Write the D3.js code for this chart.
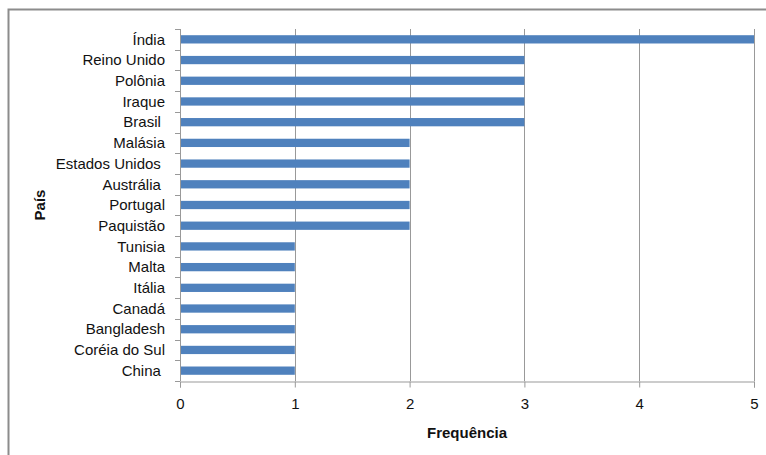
<!DOCTYPE html>
<html>
<head>
<meta charset="utf-8">
<script src="https://cdn.jsdelivr.net/npm/d3@7"></script>
<style>
  html, body { margin: 0; padding: 0; background: #fff; }
  svg text { font-family: "Liberation Sans", Arial, sans-serif; white-space: pre; }
</style>
</head>
<body>
<svg id="chart" width="766" height="455"></svg>
<script>
// Countries, top to bottom, and their frequencies
const paises = ["Índia", "Reino Unido", "Polônia", "Iraque", "Brasil ", "Malásia",
  "Estados Unidos ", "Austrália ", "Portugal", "Paquistão", "Tunisia", "Malta",
  "Itália", "Canadá", "Bangladesh", "Coréia do Sul", "China "];
const frequencias = [5, 3, 3, 3, 3, 2, 2, 2, 2, 2, 1, 1, 1, 1, 1, 1, 1];
const ticksX = [0, 1, 2, 3, 4, 5];

const svg = d3.select("#chart");
const plotL = 180, plotR = 754, plotT = 29, plotB = 381;
const textColor = "#111";
const fontSize = 15;

// outer frame (partially cropped at right/bottom)
svg.append("rect")
  .attr("x", 8.5).attr("y", 9.5).attr("width", 800).attr("height", 500)
  .attr("fill", "none").attr("stroke", "#8c8c8c").attr("stroke-width", 2);

const x = d3.scaleLinear().domain([0, 5]).range([plotL, plotR]);
const y = d3.scaleBand().domain(paises).range([plotT, plotB]).paddingInner(0.6).paddingOuter(0.3);
const yb = d3.scaleBand().domain(paises).range([plotT, plotB]);

// vertical gridlines
svg.append("g").selectAll("line").data(ticksX.slice(1)).join("line")
  .attr("x1", d => Math.round(x(d)) + 0.5).attr("x2", d => Math.round(x(d)) + 0.5)
  .attr("y1", plotT).attr("y2", plotB)
  .attr("stroke", "#999").attr("stroke-width", 1);

// bars
svg.append("g").selectAll("rect").data(paises).join("rect")
  .attr("x", x(0))
  .attr("y", d => y(d))
  .attr("width", (d, i) => x(frequencias[i]) - x(0))
  .attr("height", y.bandwidth())
  .attr("fill", "#4F81BD");

// x axis
const xAxis = svg.append("g").attr("transform", `translate(0,${plotB + 0.5})`)
  .call(d3.axisBottom(x).tickValues(ticksX).tickSize(6).tickPadding(11).tickFormat(d3.format("d")));
xAxis.select(".domain").attr("stroke", "#999");
xAxis.selectAll(".tick line").attr("stroke", "#999");
xAxis.selectAll("text").attr("font-size", fontSize).attr("fill", textColor)
  .attr("font-family", "'Liberation Sans', Arial, sans-serif");

// y axis with ticks at band boundaries
const yAxisG = svg.append("g");
yAxisG.append("line")
  .attr("x1", plotL + 0.5).attr("x2", plotL + 0.5).attr("y1", plotT).attr("y2", plotB)
  .attr("stroke", "#999");
const bounds = paises.map(p => yb(p)).concat([plotB]);
yAxisG.selectAll("line.tk").data(bounds).join("line").attr("class", "tk")
  .attr("x1", plotL - 5).attr("x2", plotL)
  .attr("y1", d => Math.round(d) + 0.5).attr("y2", d => Math.round(d) + 0.5)
  .attr("stroke", "#999");
yAxisG.selectAll("text").data(paises).join("text")
  .attr("x", 165)
  .attr("y", d => y(d) + y.bandwidth() / 2)
  .attr("dy", "0.35em")
  .attr("text-anchor", "end")
  .attr("font-size", fontSize)
  .attr("fill", textColor)
  .text(d => d);

// axis titles
svg.append("text")
  .attr("x", 467).attr("y", 438)
  .attr("text-anchor", "middle")
  .attr("font-size", fontSize).attr("font-weight", "bold").attr("fill", textColor)
  .text("Frequência");
svg.append("text")
  .attr("transform", `translate(45,${(plotT + plotB) / 2}) rotate(-90)`)
  .attr("text-anchor", "middle")
  .attr("font-size", fontSize).attr("font-weight", "bold").attr("fill", textColor)
  .text("País");
</script>
</body>
</html>
